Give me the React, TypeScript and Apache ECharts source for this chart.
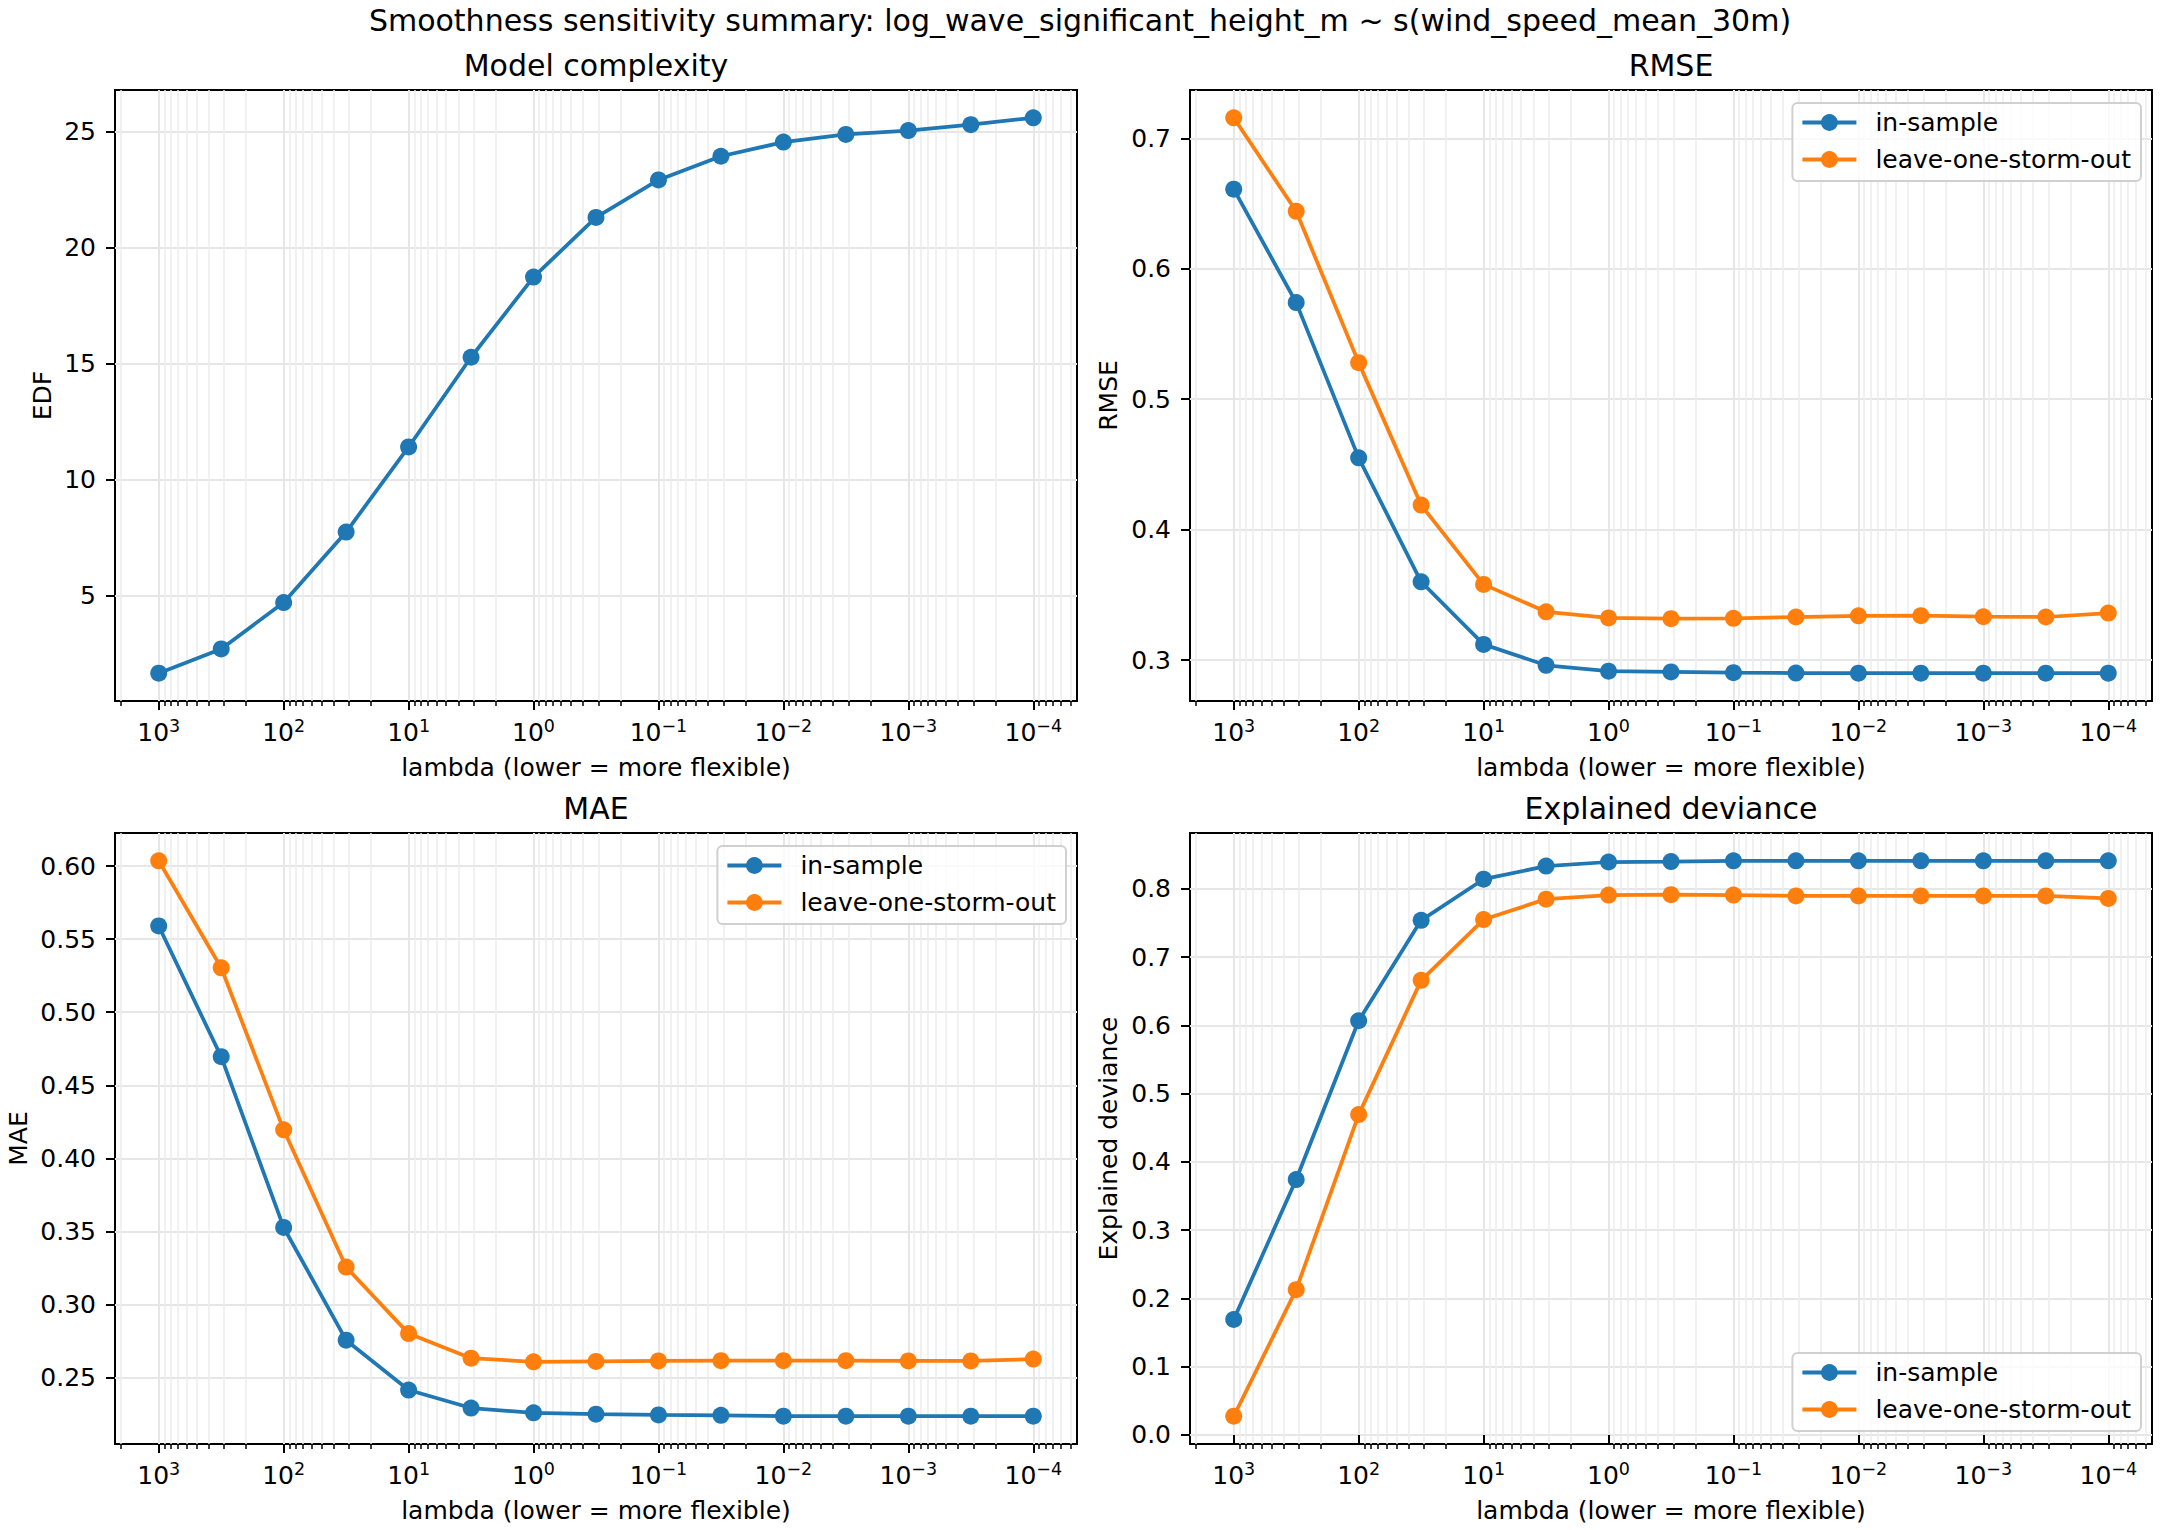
import React, { useEffect, useRef } from "react";
import * as echarts from "echarts";

const FONT = '"DejaVu Sans", "Liberation Sans", sans-serif';
const BLUE = "#1f77b4";
const ORANGE = "#ff7f0e";

const supTitle =
  "Smoothness sensitivity summary: log_wave_significant_height_m ~ s(wind_speed_mean_30m)";
const xLabel = "lambda (lower = more flexible)";
const seriesNames = ["in-sample", "leave-one-storm-out"];

const lambdas = [
  1000, 316.23, 100, 31.623, 10, 3.1623, 1, 0.31623, 0.1, 0.031623, 0.01,
  0.0031623, 0.001, 0.00031623, 0.0001,
];

const edf = [
  1.65, 2.7, 4.7, 7.74, 11.41, 15.28, 18.74, 21.31, 22.93, 23.95, 24.56, 24.89,
  25.06, 25.31, 25.61,
];
const rmseIn = [
  0.661, 0.574, 0.455, 0.36, 0.312, 0.296, 0.2915, 0.2909, 0.2903, 0.29,
  0.2899, 0.2899, 0.2899, 0.2899, 0.2899,
];
const rmseOut = [
  0.7157, 0.644, 0.528, 0.4188, 0.358, 0.337, 0.3323, 0.3317, 0.332, 0.333,
  0.3339, 0.334, 0.3332, 0.333, 0.336,
];
const maeIn = [
  0.559, 0.4696, 0.3528, 0.2757, 0.2416, 0.2293, 0.226, 0.2251, 0.2246, 0.2243,
  0.2237, 0.2237, 0.2237, 0.2237, 0.2237,
];
const maeOut = [
  0.6036, 0.5304, 0.4196, 0.3257, 0.2802, 0.2634, 0.2609, 0.2612, 0.2615,
  0.2617, 0.2617, 0.2617, 0.2615, 0.2615, 0.2628,
];
const devIn = [
  0.1692, 0.3743, 0.6069, 0.754, 0.8143, 0.8335, 0.8395, 0.8401, 0.8413,
  0.8413, 0.8413, 0.8413, 0.8413, 0.8413, 0.8413,
];
const devOut = [
  0.0275, 0.2129, 0.4694, 0.6661, 0.7552, 0.7851, 0.791, 0.7916, 0.791, 0.7898,
  0.7898, 0.7898, 0.7898, 0.7898, 0.7862,
];

const decadeTicks = [1000, 100, 10, 1, 0.1, 0.01, 0.001, 0.0001];
const edfTicks = [5, 10, 15, 20, 25];
const rmseTicks = [0.3, 0.4, 0.5, 0.6, 0.7];
const maeTicks = [0.25, 0.3, 0.35, 0.4, 0.45, 0.5, 0.55, 0.6];
const devTicks = [0, 0.1, 0.2, 0.3, 0.4, 0.5, 0.6, 0.7, 0.8];

type Panel = {
  title: string;
  ylabel: string;
  series: { name: string; values: number[]; color: string }[];
  yTicks: number[];
  decimals: number;
  left: number;
  top: number;
  nameGap: number;
  legend: any | null;
};

const W = 962;
const H = 611;
const FS = 25;
const TFS = 30;

const panels: Panel[] = [
  {
    title: "Model complexity",
    ylabel: "EDF",
    series: [{ name: "edf", values: edf, color: BLUE }],
    yTicks: edfTicks,
    decimals: 0,
    left: 115,
    top: 90,
    nameGap: 60,
    legend: null,
  },
  {
    title: "RMSE",
    ylabel: "RMSE",
    series: [
      { name: seriesNames[0], values: rmseIn, color: BLUE },
      { name: seriesNames[1], values: rmseOut, color: ORANGE },
    ],
    yTicks: rmseTicks,
    decimals: 1,
    left: 1190,
    top: 90,
    nameGap: 69,
    legend: { right: 19, top: 103 },
  },
  {
    title: "MAE",
    ylabel: "MAE",
    series: [
      { name: seriesNames[0], values: maeIn, color: BLUE },
      { name: seriesNames[1], values: maeOut, color: ORANGE },
    ],
    yTicks: maeTicks,
    decimals: 2,
    left: 115,
    top: 833,
    nameGap: 84,
    legend: { right: 1094, top: 846 },
  },
  {
    title: "Explained deviance",
    ylabel: "Explained deviance",
    series: [
      { name: seriesNames[0], values: devIn, color: BLUE },
      { name: seriesNames[1], values: devOut, color: ORANGE },
    ],
    yTicks: devTicks,
    decimals: 1,
    left: 1190,
    top: 833,
    nameGap: 69,
    legend: { right: 19, bottom: 99 },
  },
];

function paddedRange(arrays: number[][]): [number, number] {
  let lo = Infinity;
  let hi = -Infinity;
  arrays.forEach((a) =>
    a.forEach((v) => {
      lo = Math.min(lo, v);
      hi = Math.max(hi, v);
    })
  );
  const pad = (hi - lo) * 0.05;
  return [lo - pad, hi + pad];
}

function buildOption() {
  const logLo = Math.log10(Math.min(...lambdas));
  const logHi = Math.log10(Math.max(...lambdas));
  const lpad = (logHi - logLo) * 0.05;
  const xMin = Math.pow(10, logLo - lpad);
  const xMax = Math.pow(10, logHi + lpad);

  const minorTicks: number[] = [];
  for (let n = -6; n <= 4; n++) {
    for (let k = 2; k <= 9; k++) {
      const v = k * Math.pow(10, n);
      if (v >= xMin && v <= xMax) minorTicks.push(v);
    }
  }

  const grid: any[] = [];
  const xAxis: any[] = [];
  const yAxis: any[] = [];
  const series: any[] = [];
  const legend: any[] = [];
  const graphic: any[] = [
    {
      type: "text",
      x: 1080,
      y: 20,
      style: {
        text: supTitle,
        font: `${TFS}px ${FONT}`,
        fill: "#000",
        align: "center",
        verticalAlign: "middle",
      },
    },
  ];

  const nameStyle = {
    fontSize: FS,
    lineHeight: 25,
    color: "#000",
    fontFamily: FONT,
  };

  panels.forEach((p, g) => {
    grid.push({
      left: p.left,
      top: p.top,
      width: W,
      height: H,
      show: true,
      borderColor: "#000",
      borderWidth: 2,
      backgroundColor: "transparent",
      containLabel: false,
      outerBoundsMode: "none",
    });

    xAxis.push({
      type: "log",
      logBase: 10,
      gridIndex: g,
      position: "bottom",
      inverse: true,
      min: xMin,
      max: xMax,
      name: xLabel,
      nameLocation: "middle",
      nameGap: 54,
      nameMoveOverlap: false,
      nameTextStyle: nameStyle,
      axisLine: { show: false },
      axisTick: {
        show: true,
        length: 9,
        inside: false,
        lineStyle: { color: "#000", width: 2 },
        customValues: decadeTicks,
      },
      axisLabel: {
        show: true,
        margin: 16,
        customValues: decadeTicks,
        formatter: (v: number) => {
          const e = Math.round(Math.log10(v));
          const s = e < 0 ? "\u2212" + -e : String(e);
          return `{b|10}{s|${s}}`;
        },
        rich: {
          b: { fontSize: FS, lineHeight: 31, fontFamily: FONT, color: "#000" },
          s: {
            fontSize: 17.5,
            lineHeight: 18.5,
            verticalAlign: "top",
            fontFamily: FONT,
            color: "#000",
          },
        },
      },
      splitLine: { show: true, lineStyle: { color: "#e6e6e6", width: 2 } },
      minorTick: { show: false },
      minorSplitLine: { show: false },
    });

    xAxis.push({
      type: "log",
      logBase: 10,
      gridIndex: g,
      position: "bottom",
      inverse: true,
      min: xMin,
      max: xMax,
      axisLine: { show: false },
      axisTick: {
        show: true,
        length: 5,
        inside: false,
        lineStyle: { color: "#000", width: 1.5 },
        customValues: minorTicks,
      },
      axisLabel: { show: false, customValues: minorTicks },
      splitLine: { show: true, lineStyle: { color: "#ececec", width: 1.5 } },
    });

    const [yMin, yMax] = paddedRange(p.series.map((s) => s.values));
    yAxis.push({
      type: "value",
      gridIndex: g,
      min: yMin,
      max: yMax,
      name: p.ylabel,
      nameLocation: "middle",
      nameRotate: 90,
      nameGap: p.nameGap,
      nameMoveOverlap: false,
      nameTextStyle: nameStyle,
      axisLine: { show: false },
      axisTick: {
        show: true,
        length: 9,
        inside: false,
        lineStyle: { color: "#000", width: 2 },
        customValues: p.yTicks,
      },
      axisLabel: {
        show: true,
        margin: 19,
        customValues: p.yTicks,
        formatter: (v: number) => v.toFixed(p.decimals),
        fontSize: FS,
        color: "#000",
        fontFamily: FONT,
      },
      splitLine: { show: true, lineStyle: { color: "#e6e6e6", width: 2 } },
    });

    p.series.forEach((s) => {
      series.push({
        type: "line",
        name: s.name,
        xAxisIndex: 2 * g,
        yAxisIndex: g,
        data: lambdas.map((l, i) => [l, s.values[i]]),
        symbol: "circle",
        symbolSize: 17,
        showSymbol: true,
        showAllSymbol: true,
        clip: false,
        lineStyle: { width: 3.75, color: s.color },
        itemStyle: { color: s.color, borderWidth: 0 },
        emphasis: { disabled: true },
      });
    });

    graphic.push({
      type: "text",
      x: p.left + W / 2,
      y: p.top - 24.4,
      style: {
        text: p.title,
        font: `${TFS}px ${FONT}`,
        fill: "#000",
        align: "center",
        verticalAlign: "middle",
      },
    });

    if (p.legend) {
      legend.push({
        show: true,
        orient: "vertical",
        ...p.legend,
        data: seriesNames,
        itemWidth: 54,
        itemHeight: 21,
        itemGap: 12,
        padding: [7, 10, 9, 8],
        backgroundColor: "rgba(255,255,255,0.8)",
        borderColor: "#d0d0d0",
        borderWidth: 2,
        borderRadius: 5,
        selectedMode: false,
        lineStyle: { width: 4 },
        textStyle: {
          fontSize: FS,
          lineHeight: 25,
          color: "#000",
          fontFamily: FONT,
          padding: [0, 0, 0, 14],
        },
      });
    }
  });

  return {
    animation: false,
    backgroundColor: "#ffffff",
    textStyle: { fontFamily: FONT },
    grid,
    xAxis,
    yAxis,
    series,
    legend,
    graphic,
    tooltip: { show: false },
  };
}

export default function App() {
  const ref = useRef<HTMLDivElement>(null);
  useEffect(() => {
    if (!ref.current) return;
    const chart = echarts.init(ref.current, undefined, { renderer: "svg" });
    chart.setOption(buildOption() as any);
    return () => chart.dispose();
  }, []);
  return (
    <div
      ref={ref}
      style={{
        position: "absolute",
        left: 0,
        top: 0,
        width: 2160,
        height: 1530,
        background: "#fff",
      }}
    />
  );
}
